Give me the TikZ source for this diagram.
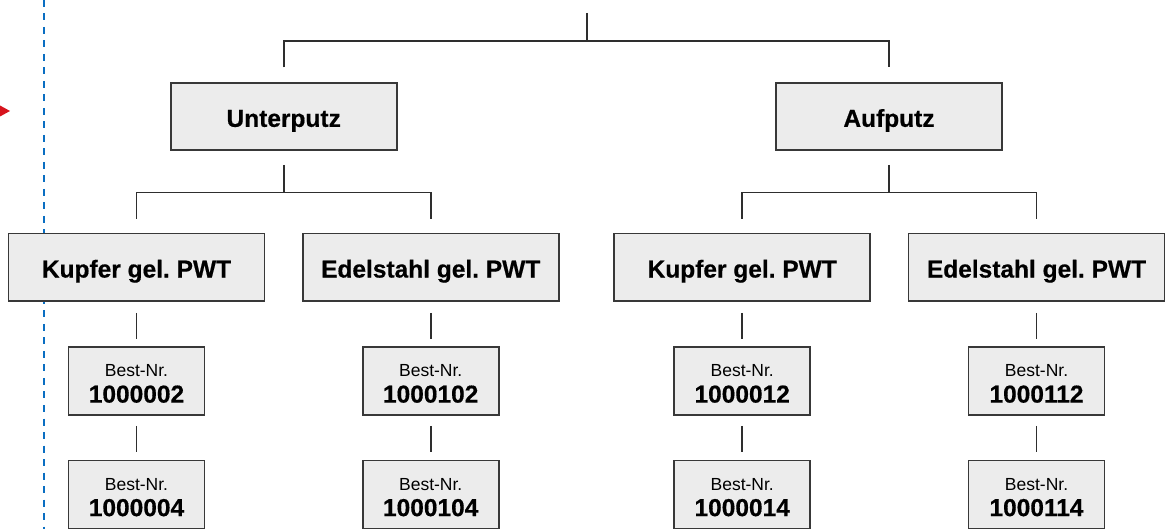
\documentclass[tikz,border=0pt]{standalone}
\usepackage{fontspec}
\setmainfont{Liberation Sans}[BoldFeatures={FakeBold=0.5}]
\usetikzlibrary{calc}
\frenchspacing

\definecolor{boxfill}{HTML}{ECECEC}
\definecolor{boxline}{HTML}{383838}
\definecolor{wire}{HTML}{2E2E2E}
\definecolor{guide}{HTML}{0A6EC2}
\definecolor{marker}{HTML}{D7141D}

\tikzset{
  box/.style={draw=boxline, fill=boxfill, line width=1.6pt, inner sep=0pt,
              anchor=center},
  group/.style={box, minimum width=226pt, minimum height=67pt,
                text height=20.5pt, text depth=0pt,
                font=\fontsize{24.5}{28}\selectfont\bfseries},
  variant/.style={box, minimum width=256pt, minimum height=67.5pt,
                  text height=20.5pt, text depth=0pt,
                  font=\fontsize{24.5}{28}\selectfont\bfseries},
  part/.style={box, minimum width=136pt, minimum height=68pt, align=center,
               font=\fontsize{17.5}{26}\selectfont},
  wireline/.style={draw=wire, line width=1.6pt},
  guideline/.style={draw=guide, line width=2.6pt, dash pattern=on 7pt off 6.5pt}
}

% order number box: small caption over a bold number
\newcommand{\ordno}[1]{\rule{0pt}{17.4pt}Best-Nr.\\{\bfseries\fontsize{24.5}{26}\selectfont #1}}

\begin{document}
\begin{tikzpicture}[x=1pt, y=-1pt]
\useasboundingbox (0,0) rectangle (1168,529);

% dashed guide and marker on the left
\coordinate (gtop) at (44,0);
\coordinate (gbot) at (44,529);
\draw[guideline] (gtop) -- (gbot);
\fill[marker] (-6,102.2) -- (10,111) -- (-6,119.8) -- cycle;

% mounting types
\node[group] (unter) at (283.7,116.6) {Unterputz};
\node[group] (auf)   at (889,116.6)   {Aufputz};

% heat exchanger variants
\node[variant] (uk) at (136.5,267.3) {Kupfer gel. PWT};
\node[variant] (ue) at (430.7,267.3) {Edelstahl gel. PWT};
\node[variant] (ak) at (742.2,267.3) {Kupfer gel. PWT};
\node[variant] (ae) at (1036.5,267.3) {Edelstahl gel. PWT};

% order numbers
\node[part] (uk1) at (136.5,381) {\ordno{1000002}};
\node[part] (uk2) at (136.5,494.5) {\ordno{1000004}};
\node[part] (ue1) at (430.7,381) {\ordno{1000102}};
\node[part] (ue2) at (430.7,494.5) {\ordno{1000104}};
\node[part] (ak1) at (742.2,381) {\ordno{1000012}};
\node[part] (ak2) at (742.2,494.5) {\ordno{1000014}};
\node[part] (ae1) at (1036.5,381) {\ordno{1000112}};
\node[part] (ae2) at (1036.5,494.5) {\ordno{1000114}};

% top level branching
\coordinate (root) at (586.7,13);
\coordinate (rootj) at (586.7,41.3);
\draw[wireline] (root) -- (rootj);
\draw[wireline] ($(unter.north)+(0,-15)$) |- (rootj) -| ($(auf.north)+(0,-15)$);

% mounting type -> variants
\foreach \p/\l/\r in {unter/uk/ue, auf/ak/ae}{
  \draw[wireline] ($(\p.south)+(0,14)$) -- ($(\p.south)+(0,41.7)$) coordinate (\p j);
  \draw[wireline] ($(\l.north)+(0,-14)$) |- (\p j) -| ($(\r.north)+(0,-14)$);
}

% variants -> order numbers
\foreach \v in {uk, ue, ak, ae}{
  \draw[wireline] ($(\v.south)+(0,11)$) -- ($(\v 1.north)+(0,-7.5)$);
  \draw[wireline] ($(\v 1.south)+(0,10)$) -- ($(\v 2.north)+(0,-8)$);
}
\end{tikzpicture}
\end{document}
